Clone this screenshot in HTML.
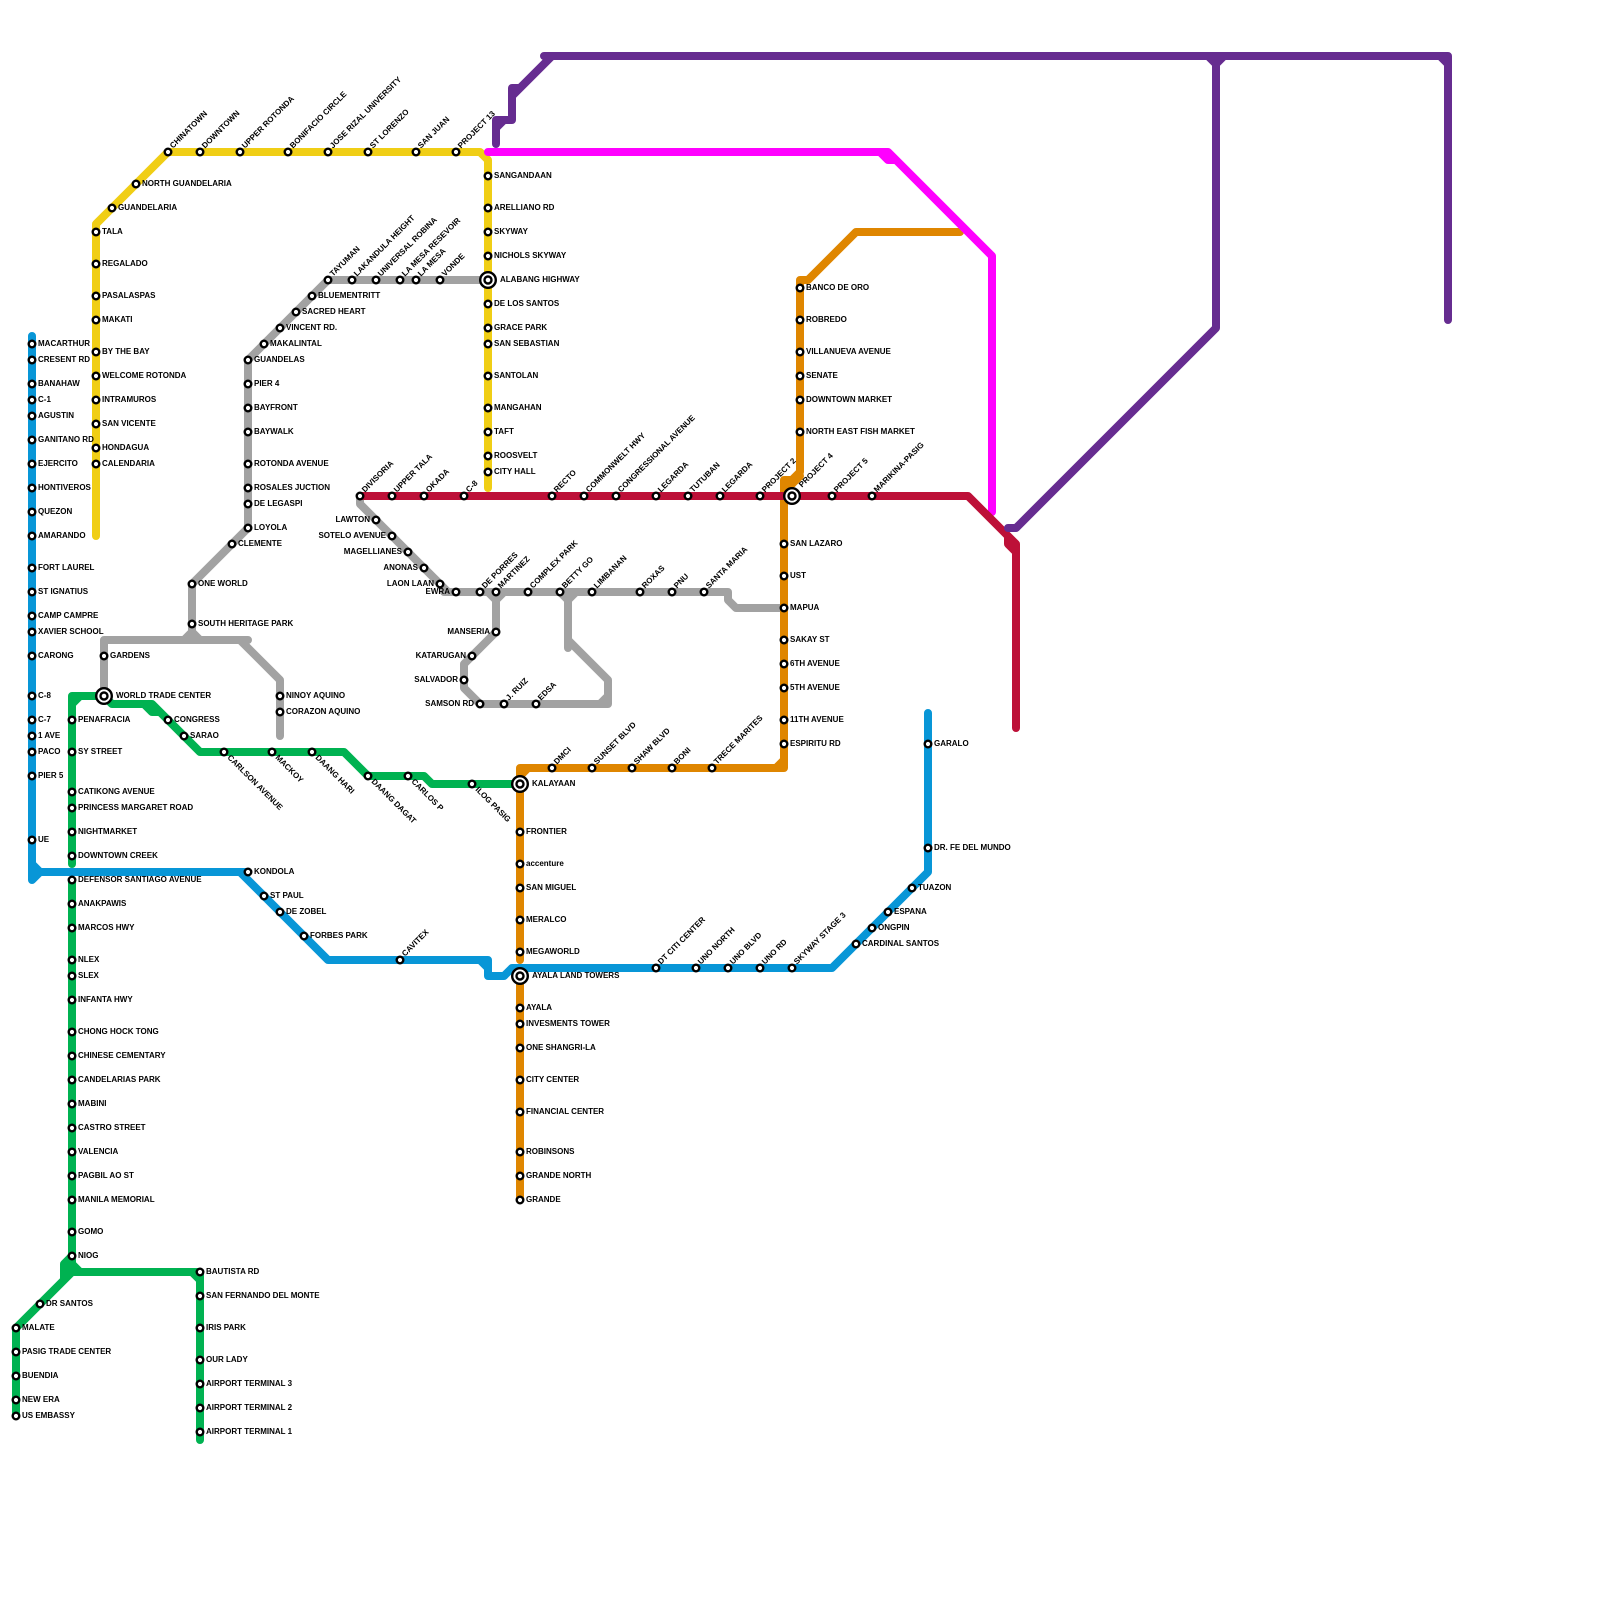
<!DOCTYPE html>
<html><head><meta charset="utf-8"><style>
html,body{margin:0;padding:0;background:#fff}
svg{display:block}
.l path{fill:none;stroke-width:8;stroke-linecap:round;stroke-linejoin:round}
.s circle{fill:#fff;stroke:#000;stroke-width:2.4}
text{font:bold 8px "Liberation Sans",sans-serif;fill:#000}
.e text{text-anchor:end}
</style></head><body>
<svg width="1600" height="1600" viewBox="0 0 1600 1600" xmlns="http://www.w3.org/2000/svg">
<rect width="1600" height="1600" fill="#fff"/>
<g class="l">
<g stroke="#a2a2a2">
<path style="stroke:#a2a2a2" d="M488,280H328L248,360V528L192,584V632M184,640L192,632L200,640M104,696V640H248M240,640L280,680V736M360,496V504L448,592M444,592H728V600L736,608H784M488,592L496,600L504,592M496,592V632L472,656L464,664V688L480,704H608V680L568,640M600,704L608,696M560,592L568,600L576,592M568,592V648"/>
</g>
<path style="stroke:#00b251" d="M72,864V696H104M72,704L80,696M104,696L112,704H152L200,752H344L368,776H424L432,784H520M144,704L152,712H160M72,880V1272M72,1256L64,1264V1280M72,1264L80,1272M200,1272H72L16,1328V1416M192,1272L200,1280M200,1272V1440"/>
<path style="stroke:#0896d7" d="M32,336V880L40,872M32,864L40,872M32,872H248M240,872L328,960H488V976H504L512,968H832L928,872V713M480,960L488,968"/>
<path style="stroke:#df8600" d="M520,960V768H784V496M520,776L528,768M776,768L784,760M520,976V1200M784,496V480H792L800,472V280H808L856,232H960M784,484H792L800,476"/>
<path style="stroke:#f0ce15" d="M96,536V224L168,152H480L488,160V488"/>
<path style="stroke:#ff00ff" d="M488,152H888L992,256V512M880,152L888,160H896"/>
<path style="stroke:#bd1038" d="M360,496H968L1016,544V728M1008,536V544L1016,552"/>
<path style="stroke:#662c90" d="M496,144V120H512V88H520M496,128L504,120M512,96L552,56M544,56H1448V320M1208,56L1216,64L1224,56M1216,56V328L1016,528H1008M1440,56L1448,64"/>
</g>
<g class="s">
<circle cx="32" cy="344" r="3.3"/><circle cx="32" cy="360" r="3.3"/><circle cx="32" cy="384" r="3.3"/><circle cx="32" cy="400" r="3.3"/><circle cx="32" cy="416" r="3.3"/><circle cx="32" cy="440" r="3.3"/><circle cx="32" cy="464" r="3.3"/><circle cx="32" cy="488" r="3.3"/><circle cx="32" cy="512" r="3.3"/><circle cx="32" cy="536" r="3.3"/><circle cx="32" cy="568" r="3.3"/><circle cx="32" cy="592" r="3.3"/><circle cx="32" cy="616" r="3.3"/><circle cx="32" cy="632" r="3.3"/><circle cx="32" cy="656" r="3.3"/><circle cx="32" cy="696" r="3.3"/><circle cx="32" cy="720" r="3.3"/><circle cx="32" cy="736" r="3.3"/><circle cx="32" cy="752" r="3.3"/><circle cx="32" cy="776" r="3.3"/><circle cx="32" cy="840" r="3.3"/>
<circle cx="248" cy="872" r="3.3"/><circle cx="264" cy="896" r="3.3"/><circle cx="280" cy="912" r="3.3"/><circle cx="304" cy="936" r="3.3"/><circle cx="400" cy="960" r="3.3"/>
<circle cx="656" cy="968" r="3.3"/><circle cx="696" cy="968" r="3.3"/><circle cx="728" cy="968" r="3.3"/><circle cx="760" cy="968" r="3.3"/><circle cx="792" cy="968" r="3.3"/>
<circle cx="856" cy="944" r="3.3"/><circle cx="872" cy="928" r="3.3"/><circle cx="888" cy="912" r="3.3"/><circle cx="912" cy="888" r="3.3"/><circle cx="928" cy="848" r="3.3"/><circle cx="928" cy="744" r="3.3"/>
<circle cx="96" cy="232" r="3.3"/><circle cx="96" cy="264" r="3.3"/><circle cx="96" cy="296" r="3.3"/><circle cx="96" cy="320" r="3.3"/><circle cx="96" cy="352" r="3.3"/><circle cx="96" cy="376" r="3.3"/><circle cx="96" cy="400" r="3.3"/><circle cx="96" cy="424" r="3.3"/><circle cx="96" cy="448" r="3.3"/><circle cx="96" cy="464" r="3.3"/>
<circle cx="112" cy="208" r="3.3"/><circle cx="136" cy="184" r="3.3"/><circle cx="168" cy="152" r="3.3"/><circle cx="200" cy="152" r="3.3"/><circle cx="240" cy="152" r="3.3"/><circle cx="288" cy="152" r="3.3"/><circle cx="328" cy="152" r="3.3"/><circle cx="368" cy="152" r="3.3"/><circle cx="416" cy="152" r="3.3"/><circle cx="456" cy="152" r="3.3"/>
<circle cx="488" cy="176" r="3.3"/><circle cx="488" cy="208" r="3.3"/><circle cx="488" cy="232" r="3.3"/><circle cx="488" cy="256" r="3.3"/><circle cx="488" cy="304" r="3.3"/><circle cx="488" cy="328" r="3.3"/><circle cx="488" cy="344" r="3.3"/><circle cx="488" cy="376" r="3.3"/><circle cx="488" cy="408" r="3.3"/><circle cx="488" cy="432" r="3.3"/><circle cx="488" cy="456" r="3.3"/><circle cx="488" cy="472" r="3.3"/>
<circle cx="328" cy="280" r="3.3"/><circle cx="352" cy="280" r="3.3"/><circle cx="376" cy="280" r="3.3"/><circle cx="400" cy="280" r="3.3"/><circle cx="416" cy="280" r="3.3"/><circle cx="440" cy="280" r="3.3"/>
<circle cx="312" cy="296" r="3.3"/><circle cx="296" cy="312" r="3.3"/><circle cx="280" cy="328" r="3.3"/><circle cx="264" cy="344" r="3.3"/>
<circle cx="248" cy="360" r="3.3"/><circle cx="248" cy="384" r="3.3"/><circle cx="248" cy="408" r="3.3"/><circle cx="248" cy="432" r="3.3"/><circle cx="248" cy="464" r="3.3"/><circle cx="248" cy="488" r="3.3"/><circle cx="248" cy="504" r="3.3"/><circle cx="248" cy="528" r="3.3"/>
<circle cx="232" cy="544" r="3.3"/><circle cx="192" cy="584" r="3.3"/><circle cx="192" cy="624" r="3.3"/><circle cx="104" cy="656" r="3.3"/><circle cx="280" cy="696" r="3.3"/><circle cx="280" cy="712" r="3.3"/>
<circle cx="360" cy="496" r="3.3"/><circle cx="392" cy="496" r="3.3"/><circle cx="424" cy="496" r="3.3"/><circle cx="464" cy="496" r="3.3"/><circle cx="552" cy="496" r="3.3"/><circle cx="584" cy="496" r="3.3"/><circle cx="616" cy="496" r="3.3"/><circle cx="656" cy="496" r="3.3"/><circle cx="688" cy="496" r="3.3"/><circle cx="720" cy="496" r="3.3"/><circle cx="760" cy="496" r="3.3"/><circle cx="832" cy="496" r="3.3"/><circle cx="872" cy="496" r="3.3"/>
<circle cx="376" cy="520" r="3.3"/><circle cx="392" cy="536" r="3.3"/><circle cx="408" cy="552" r="3.3"/><circle cx="424" cy="568" r="3.3"/><circle cx="440" cy="584" r="3.3"/>
<circle cx="456" cy="592" r="3.3"/><circle cx="480" cy="592" r="3.3"/><circle cx="496" cy="592" r="3.3"/><circle cx="528" cy="592" r="3.3"/><circle cx="560" cy="592" r="3.3"/><circle cx="592" cy="592" r="3.3"/><circle cx="640" cy="592" r="3.3"/><circle cx="672" cy="592" r="3.3"/><circle cx="704" cy="592" r="3.3"/>
<circle cx="496" cy="632" r="3.3"/><circle cx="472" cy="656" r="3.3"/><circle cx="464" cy="680" r="3.3"/><circle cx="480" cy="704" r="3.3"/><circle cx="504" cy="704" r="3.3"/><circle cx="536" cy="704" r="3.3"/>
<circle cx="72" cy="720" r="3.3"/><circle cx="72" cy="752" r="3.3"/><circle cx="72" cy="792" r="3.3"/><circle cx="72" cy="808" r="3.3"/><circle cx="72" cy="832" r="3.3"/><circle cx="72" cy="856" r="3.3"/><circle cx="72" cy="880" r="3.3"/><circle cx="72" cy="904" r="3.3"/><circle cx="72" cy="928" r="3.3"/><circle cx="72" cy="960" r="3.3"/><circle cx="72" cy="976" r="3.3"/><circle cx="72" cy="1000" r="3.3"/><circle cx="72" cy="1032" r="3.3"/><circle cx="72" cy="1056" r="3.3"/><circle cx="72" cy="1080" r="3.3"/><circle cx="72" cy="1104" r="3.3"/><circle cx="72" cy="1128" r="3.3"/><circle cx="72" cy="1152" r="3.3"/><circle cx="72" cy="1176" r="3.3"/><circle cx="72" cy="1200" r="3.3"/><circle cx="72" cy="1232" r="3.3"/><circle cx="72" cy="1256" r="3.3"/>
<circle cx="40" cy="1304" r="3.3"/><circle cx="16" cy="1328" r="3.3"/><circle cx="16" cy="1352" r="3.3"/><circle cx="16" cy="1376" r="3.3"/><circle cx="16" cy="1400" r="3.3"/><circle cx="16" cy="1416" r="3.3"/>
<circle cx="200" cy="1272" r="3.3"/><circle cx="200" cy="1296" r="3.3"/><circle cx="200" cy="1328" r="3.3"/><circle cx="200" cy="1360" r="3.3"/><circle cx="200" cy="1384" r="3.3"/><circle cx="200" cy="1408" r="3.3"/><circle cx="200" cy="1432" r="3.3"/>
<circle cx="168" cy="720" r="3.3"/><circle cx="184" cy="736" r="3.3"/><circle cx="224" cy="752" r="3.3"/><circle cx="272" cy="752" r="3.3"/><circle cx="312" cy="752" r="3.3"/><circle cx="368" cy="776" r="3.3"/><circle cx="408" cy="776" r="3.3"/><circle cx="472" cy="784" r="3.3"/>
<circle cx="520" cy="832" r="3.3"/><circle cx="520" cy="864" r="3.3"/><circle cx="520" cy="888" r="3.3"/><circle cx="520" cy="920" r="3.3"/><circle cx="520" cy="952" r="3.3"/><circle cx="520" cy="1008" r="3.3"/><circle cx="520" cy="1024" r="3.3"/><circle cx="520" cy="1048" r="3.3"/><circle cx="520" cy="1080" r="3.3"/><circle cx="520" cy="1112" r="3.3"/><circle cx="520" cy="1152" r="3.3"/><circle cx="520" cy="1176" r="3.3"/><circle cx="520" cy="1200" r="3.3"/>
<circle cx="552" cy="768" r="3.3"/><circle cx="592" cy="768" r="3.3"/><circle cx="632" cy="768" r="3.3"/><circle cx="672" cy="768" r="3.3"/><circle cx="712" cy="768" r="3.3"/>
<circle cx="784" cy="544" r="3.3"/><circle cx="784" cy="576" r="3.3"/><circle cx="784" cy="608" r="3.3"/><circle cx="784" cy="640" r="3.3"/><circle cx="784" cy="664" r="3.3"/><circle cx="784" cy="688" r="3.3"/><circle cx="784" cy="720" r="3.3"/><circle cx="784" cy="744" r="3.3"/>
<circle cx="800" cy="288" r="3.3"/><circle cx="800" cy="320" r="3.3"/><circle cx="800" cy="352" r="3.3"/><circle cx="800" cy="376" r="3.3"/><circle cx="800" cy="400" r="3.3"/><circle cx="800" cy="432" r="3.3"/>
<circle cx="104" cy="696" r="7.8"/><circle cx="104" cy="696" r="3.5"/>
<circle cx="488" cy="280" r="7.8"/><circle cx="488" cy="280" r="3.5"/>
<circle cx="792" cy="496" r="7.8"/><circle cx="792" cy="496" r="3.5"/>
<circle cx="520" cy="784" r="7.8"/><circle cx="520" cy="784" r="3.5"/>
<circle cx="520" cy="976" r="7.8"/><circle cx="520" cy="976" r="3.5"/>
</g>
<g transform="translate(0,-0.5)">
<g>
<text x="38" y="346.5">MACARTHUR</text><text x="38" y="362.5">CRESENT RD</text><text x="38" y="386.5">BANAHAW</text><text x="38" y="402.5">C-1</text><text x="38" y="418.5">AGUSTIN</text><text x="38" y="442.5">GANITANO RD</text><text x="38" y="466.5">EJERCITO</text><text x="38" y="490.5">HONTIVEROS</text><text x="38" y="514.5">QUEZON</text><text x="38" y="538.5">AMARANDO</text><text x="38" y="570.5">FORT LAUREL</text><text x="38" y="594.5">ST IGNATIUS</text><text x="38" y="618.5">CAMP CAMPRE</text><text x="38" y="634.5">XAVIER SCHOOL</text><text x="38" y="658.5">CARONG</text><text x="38" y="698.5">C-8</text><text x="38" y="722.5">C-7</text><text x="38" y="738.5">1 AVE</text><text x="38" y="754.5">PACO</text><text x="38" y="778.5">PIER 5</text><text x="38" y="842.5">UE</text>
<text x="254" y="874.5">KONDOLA</text><text x="270" y="898.5">ST PAUL</text><text x="286" y="914.5">DE ZOBEL</text><text x="310" y="938.5">FORBES PARK</text>
<text x="862" y="946.5">CARDINAL SANTOS</text><text x="878" y="930.5">ONGPIN</text><text x="894" y="914.5">ESPANA</text><text x="918" y="890.5">TUAZON</text><text x="934" y="850.5">DR. FE DEL MUNDO</text><text x="934" y="746.5">GARALO</text>
<text x="102" y="234.5">TALA</text><text x="102" y="266.5">REGALADO</text><text x="102" y="298.5">PASALASPAS</text><text x="102" y="322.5">MAKATI</text><text x="102" y="354.5">BY THE BAY</text><text x="102" y="378.5">WELCOME ROTONDA</text><text x="102" y="402.5">INTRAMUROS</text><text x="102" y="426.5">SAN VICENTE</text><text x="102" y="450.5">HONDAGUA</text><text x="102" y="466.5">CALENDARIA</text>
<text x="118" y="210.5">GUANDELARIA</text><text x="142" y="186.5">NORTH GUANDELARIA</text>
<text x="494" y="178.5">SANGANDAAN</text><text x="494" y="210.5">ARELLIANO RD</text><text x="494" y="234.5">SKYWAY</text><text x="494" y="258.5">NICHOLS SKYWAY</text><text x="500" y="282.5">ALABANG HIGHWAY</text><text x="494" y="306.5">DE LOS SANTOS</text><text x="494" y="330.5">GRACE PARK</text><text x="494" y="346.5">SAN SEBASTIAN</text><text x="494" y="378.5">SANTOLAN</text><text x="494" y="410.5">MANGAHAN</text><text x="494" y="434.5">TAFT</text><text x="494" y="458.5">ROOSVELT</text><text x="494" y="474.5">CITY HALL</text>
<text x="318" y="298.5">BLUEMENTRITT</text><text x="302" y="314.5">SACRED HEART</text><text x="286" y="330.5">VINCENT RD.</text><text x="270" y="346.5">MAKALINTAL</text>
<text x="254" y="362.5">GUANDELAS</text><text x="254" y="386.5">PIER 4</text><text x="254" y="410.5">BAYFRONT</text><text x="254" y="434.5">BAYWALK</text><text x="254" y="466.5">ROTONDA AVENUE</text><text x="254" y="490.5">ROSALES JUCTION</text><text x="254" y="506.5">DE LEGASPI</text><text x="254" y="530.5">LOYOLA</text>
<text x="238" y="546.5">CLEMENTE</text><text x="198" y="586.5">ONE WORLD</text><text x="198" y="626.5">SOUTH HERITAGE PARK</text><text x="110" y="658.5">GARDENS</text><text x="116" y="698.5">WORLD TRADE CENTER</text><text x="286" y="698.5">NINOY AQUINO</text><text x="286" y="714.5">CORAZON AQUINO</text>
<text x="78" y="722.5">PENAFRACIA</text><text x="78" y="754.5">SY STREET</text><text x="78" y="794.5">CATIKONG AVENUE</text><text x="78" y="810.5">PRINCESS MARGARET ROAD</text><text x="78" y="834.5">NIGHTMARKET</text><text x="78" y="858.5">DOWNTOWN CREEK</text><text x="78" y="882.5">DEFENSOR SANTIAGO AVENUE</text><text x="78" y="906.5">ANAKPAWIS</text><text x="78" y="930.5">MARCOS HWY</text><text x="78" y="962.5">NLEX</text><text x="78" y="978.5">SLEX</text><text x="78" y="1002.5">INFANTA HWY</text><text x="78" y="1034.5">CHONG HOCK TONG</text><text x="78" y="1058.5">CHINESE CEMENTARY</text><text x="78" y="1082.5">CANDELARIAS PARK</text><text x="78" y="1106.5">MABINI</text><text x="78" y="1130.5">CASTRO STREET</text><text x="78" y="1154.5">VALENCIA</text><text x="78" y="1178.5">PAGBIL AO ST</text><text x="78" y="1202.5">MANILA MEMORIAL</text><text x="78" y="1234.5">GOMO</text><text x="78" y="1258.5">NIOG</text>
<text x="46" y="1306.5">DR SANTOS</text><text x="22" y="1330.5">MALATE</text><text x="22" y="1354.5">PASIG TRADE CENTER</text><text x="22" y="1378.5">BUENDIA</text><text x="22" y="1402.5">NEW ERA</text><text x="22" y="1418.5">US EMBASSY</text>
<text x="206" y="1274.5">BAUTISTA RD</text><text x="206" y="1298.5">SAN FERNANDO DEL MONTE</text><text x="206" y="1330.5">IRIS PARK</text><text x="206" y="1362.5">OUR LADY</text><text x="206" y="1386.5">AIRPORT TERMINAL 3</text><text x="206" y="1410.5">AIRPORT TERMINAL 2</text><text x="206" y="1434.5">AIRPORT TERMINAL 1</text>
<text x="174" y="722.5">CONGRESS</text><text x="190" y="738.5">SARAO</text>
<text x="532" y="786.5">KALAYAAN</text><text x="526" y="834.5">FRONTIER</text><text x="526" y="866.5">accenture</text><text x="526" y="890.5">SAN MIGUEL</text><text x="526" y="922.5">MERALCO</text><text x="526" y="954.5">MEGAWORLD</text><text x="532" y="978.5">AYALA LAND TOWERS</text><text x="526" y="1010.5">AYALA</text><text x="526" y="1026.5">INVESMENTS TOWER</text><text x="526" y="1050.5">ONE SHANGRI-LA</text><text x="526" y="1082.5">CITY CENTER</text><text x="526" y="1114.5">FINANCIAL CENTER</text><text x="526" y="1154.5">ROBINSONS</text><text x="526" y="1178.5">GRANDE NORTH</text><text x="526" y="1202.5">GRANDE</text>
<text x="790" y="546.5">SAN LAZARO</text><text x="790" y="578.5">UST</text><text x="790" y="610.5">MAPUA</text><text x="790" y="642.5">SAKAY ST</text><text x="790" y="666.5">6TH AVENUE</text><text x="790" y="690.5">5TH AVENUE</text><text x="790" y="722.5">11TH AVENUE</text><text x="790" y="746.5">ESPIRITU RD</text>
<text x="806" y="290.5">BANCO DE ORO</text><text x="806" y="322.5">ROBREDO</text><text x="806" y="354.5">VILLANUEVA AVENUE</text><text x="806" y="378.5">SENATE</text><text x="806" y="402.5">DOWNTOWN MARKET</text><text x="806" y="434.5">NORTH EAST FISH MARKET</text>
</g>
<g class="e">
<text x="370" y="522.5">LAWTON</text><text x="386" y="538.5">SOTELO AVENUE</text><text x="402" y="554.5">MAGELLIANES</text><text x="418" y="570.5">ANONAS</text><text x="434" y="586.5">LAON LAAN</text><text x="450" y="594.5">EWRA</text><text x="490" y="634.5">MANSERIA</text><text x="466" y="658.5">KATARUGAN</text><text x="458" y="682.5">SALVADOR</text><text x="474" y="706.5">SAMSON RD</text>
</g>
</g>
<g transform="translate(0,0.7)">
<text transform="translate(173,148) rotate(-45)">CHINATOWN</text><text transform="translate(205,148) rotate(-45)">DOWNTOWN</text><text transform="translate(245,148) rotate(-45)">UPPER ROTONDA</text><text transform="translate(293,148) rotate(-45)">BONIFACIO CIRCLE</text><text transform="translate(333,148) rotate(-45)">JOSE RIZAL UNIVERSITY</text><text transform="translate(373,148) rotate(-45)">ST LORENZO</text><text transform="translate(421,148) rotate(-45)">SAN JUAN</text><text transform="translate(461,148) rotate(-45)">PROJECT 13</text>
<text transform="translate(333,276) rotate(-45)">TAYUMAN</text><text transform="translate(357,276) rotate(-45)">LAKANDULA HEIGHT</text><text transform="translate(381,276) rotate(-45)">UNIVERSAL ROBINA</text><text transform="translate(405,276) rotate(-45)">LA MESA RESEVOIR</text><text transform="translate(421,276) rotate(-45)">LA MESA</text><text transform="translate(445,276) rotate(-45)">VONDE</text>
<text transform="translate(365,492) rotate(-45)">DIVISORIA</text><text transform="translate(397,492) rotate(-45)">UPPER TALA</text><text transform="translate(429,492) rotate(-45)">OKADA</text><text transform="translate(469,492) rotate(-45)">C-8</text><text transform="translate(557,492) rotate(-45)">RECTO</text><text transform="translate(589,492) rotate(-45)">COMMONWELT HWY</text><text transform="translate(621,492) rotate(-45)">CONGRESSIONAL AVENUE</text><text transform="translate(661,492) rotate(-45)">LEGARDA</text><text transform="translate(693,492) rotate(-45)">TUTUBAN</text><text transform="translate(725,492) rotate(-45)">LEGARDA</text><text transform="translate(765,492) rotate(-45)">PROJECT 2</text><text transform="translate(802,487) rotate(-45)">PROJECT 4</text><text transform="translate(837,492) rotate(-45)">PROJECT 5</text><text transform="translate(877,492) rotate(-45)">MARIKINA-PASIG</text>
<text transform="translate(485,588) rotate(-45)">DE PORRES</text><text transform="translate(501,588) rotate(-45)">MARTINEZ</text><text transform="translate(533,588) rotate(-45)">COMPLEX PARK</text><text transform="translate(565,588) rotate(-45)">BETTY GO</text><text transform="translate(597,588) rotate(-45)">LIMBANAN</text><text transform="translate(645,588) rotate(-45)">ROXAS</text><text transform="translate(677,588) rotate(-45)">PNU</text><text transform="translate(709,588) rotate(-45)">SANTA MARIA</text>
<text transform="translate(509,700) rotate(-45)">J. RUIZ</text><text transform="translate(541,700) rotate(-45)">EDSA</text>
<text transform="translate(557,764) rotate(-45)">DMCI</text><text transform="translate(597,764) rotate(-45)">SUNSET BLVD</text><text transform="translate(637,764) rotate(-45)">SHAW BLVD</text><text transform="translate(677,764) rotate(-45)">BONI</text><text transform="translate(717,764) rotate(-45)">TRECE MARITES</text>
<text transform="translate(405,956) rotate(-45)">CAVITEX</text><text transform="translate(661,964) rotate(-45)">DT CITI CENTER</text><text transform="translate(701,964) rotate(-45)">UNO NORTH</text><text transform="translate(733,964) rotate(-45)">UNO BLVD</text><text transform="translate(765,964) rotate(-45)">UNO RD</text><text transform="translate(797,964) rotate(-45)">SKYWAY STAGE 3</text>
</g>
<g transform="translate(1,-1)">
<text transform="translate(226,759) rotate(45)">CARLSON AVENUE</text><text transform="translate(274,759) rotate(45)">MACKOY</text><text transform="translate(314,759) rotate(45)">DAANG HARI</text><text transform="translate(370,783) rotate(45)">DAANG DAGAT</text><text transform="translate(410,783) rotate(45)">CARLOS P</text><text transform="translate(474,791) rotate(45)">ILOG PASIG</text>
</g>
</svg>
</body></html>
